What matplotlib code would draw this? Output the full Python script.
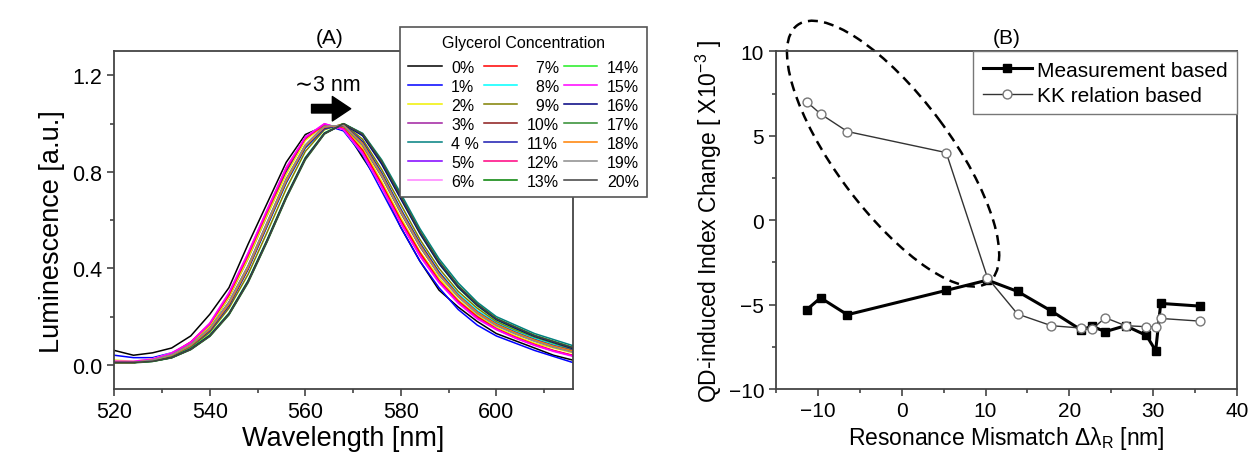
import matplotlib
matplotlib.use('Agg')
import matplotlib.pyplot as plt
from matplotlib.patches import Circle
from matplotlib.transforms import Affine2D
from matplotlib.ticker import MultipleLocator, FormatStrFormatter

plt.rcParams['font.family'] = ['Liberation Sans', 'DejaVu Sans']

# ---- panel (A): normalised luminescence spectra ----
wavelength = [520, 524, 528, 532, 536, 540, 544, 548, 552, 556, 560, 564, 568,
              572, 576, 580, 584, 588, 592, 596, 600, 604, 608, 612, 616]

concentration = ['0%', '1%', '2%', '3%', '4 %', '5%', '6%',
                 '7%', '8%', '9%', '10%', '11%', '12%', '13%',
                 '14%', '15%', '16%', '17%', '18%', '19%', '20%']

line_colors = ['#000000', '#0000ff', '#f0f000', '#a020a0', '#008080', '#8000ff', '#ff80ff',
               '#ff0000', '#00ffff', '#808000', '#8b1a1a', '#1a1ab0', '#ff0080', '#008000',
               '#22ee22', '#ff00ff', '#000080', '#2e8b2e', '#ff8000', '#8c8c8c', '#404040']

# one row per glycerol concentration, sampled at the wavelengths above
luminescence = [
    [0.06, 0.04, 0.05, 0.07, 0.12, 0.21, 0.32, 0.50, 0.67, 0.84, 0.955, 0.99, 0.985, 0.86, 0.74, 0.57, 0.43, 0.31, 0.24, 0.18, 0.13, 0.10, 0.07, 0.04, 0.02],
    [0.04, 0.03, 0.03, 0.05, 0.09, 0.16, 0.28, 0.44, 0.62, 0.80, 0.935, 0.995, 0.97, 0.87, 0.72, 0.57, 0.43, 0.32, 0.23, 0.165, 0.12, 0.09, 0.06, 0.035, 0.01],
    [0.02, 0.015, 0.025, 0.045, 0.09, 0.16, 0.28, 0.44, 0.62, 0.79, 0.93, 0.995, 0.985, 0.90, 0.76, 0.61, 0.47, 0.36, 0.27, 0.205, 0.155, 0.12, 0.09, 0.07, 0.05],
    [0.01, 0.01, 0.02, 0.04, 0.08, 0.145, 0.25, 0.40, 0.58, 0.76, 0.905, 0.985, 0.995, 0.92, 0.79, 0.64, 0.50, 0.38, 0.29, 0.22, 0.17, 0.135, 0.105, 0.08, 0.06],
    [0.01, 0.01, 0.015, 0.03, 0.065, 0.12, 0.21, 0.345, 0.515, 0.695, 0.855, 0.96, 1.0, 0.96, 0.85, 0.71, 0.565, 0.44, 0.34, 0.26, 0.20, 0.165, 0.13, 0.105, 0.08],
    [0.01, 0.01, 0.02, 0.04, 0.08, 0.15, 0.255, 0.405, 0.585, 0.765, 0.91, 0.99, 0.99, 0.915, 0.785, 0.635, 0.495, 0.375, 0.285, 0.215, 0.165, 0.13, 0.10, 0.075, 0.055],
    [0.015, 0.015, 0.025, 0.05, 0.095, 0.175, 0.30, 0.465, 0.645, 0.82, 0.945, 1.0, 0.975, 0.875, 0.735, 0.585, 0.45, 0.34, 0.255, 0.19, 0.145, 0.11, 0.08, 0.055, 0.035],
    [0.01, 0.01, 0.02, 0.045, 0.095, 0.17, 0.29, 0.455, 0.635, 0.81, 0.94, 0.995, 0.98, 0.89, 0.75, 0.60, 0.465, 0.35, 0.265, 0.20, 0.15, 0.115, 0.085, 0.06, 0.04],
    [0.01, 0.01, 0.02, 0.04, 0.08, 0.145, 0.25, 0.40, 0.575, 0.755, 0.90, 0.98, 0.995, 0.925, 0.795, 0.645, 0.505, 0.385, 0.295, 0.225, 0.175, 0.14, 0.11, 0.085, 0.065],
    [0.01, 0.01, 0.018, 0.035, 0.072, 0.135, 0.235, 0.375, 0.55, 0.73, 0.885, 0.975, 1.0, 0.935, 0.81, 0.665, 0.52, 0.40, 0.305, 0.235, 0.18, 0.145, 0.115, 0.09, 0.065],
    [0.012, 0.01, 0.02, 0.042, 0.082, 0.15, 0.26, 0.41, 0.59, 0.77, 0.91, 0.99, 0.99, 0.91, 0.78, 0.63, 0.49, 0.375, 0.285, 0.215, 0.165, 0.13, 0.10, 0.075, 0.055],
    [0.01, 0.01, 0.02, 0.04, 0.078, 0.142, 0.245, 0.395, 0.575, 0.755, 0.90, 0.98, 0.995, 0.925, 0.795, 0.645, 0.505, 0.385, 0.29, 0.22, 0.17, 0.135, 0.105, 0.08, 0.06],
    [0.012, 0.012, 0.022, 0.048, 0.092, 0.17, 0.295, 0.46, 0.64, 0.815, 0.94, 0.998, 0.978, 0.88, 0.74, 0.59, 0.455, 0.345, 0.26, 0.195, 0.148, 0.112, 0.082, 0.058, 0.038],
    [0.01, 0.01, 0.015, 0.03, 0.065, 0.12, 0.21, 0.345, 0.515, 0.695, 0.855, 0.96, 1.0, 0.955, 0.84, 0.695, 0.55, 0.425, 0.325, 0.25, 0.19, 0.155, 0.12, 0.095, 0.07],
    [0.01, 0.01, 0.016, 0.032, 0.068, 0.125, 0.215, 0.35, 0.52, 0.70, 0.86, 0.962, 1.0, 0.952, 0.835, 0.69, 0.545, 0.42, 0.32, 0.245, 0.187, 0.15, 0.117, 0.092, 0.068],
    [0.015, 0.014, 0.024, 0.048, 0.094, 0.172, 0.298, 0.462, 0.642, 0.818, 0.944, 1.0, 0.976, 0.878, 0.738, 0.588, 0.452, 0.342, 0.257, 0.192, 0.147, 0.112, 0.082, 0.057, 0.037],
    [0.01, 0.01, 0.016, 0.031, 0.066, 0.122, 0.212, 0.347, 0.517, 0.697, 0.857, 0.96, 0.998, 0.95, 0.832, 0.688, 0.545, 0.42, 0.322, 0.247, 0.188, 0.152, 0.118, 0.093, 0.068],
    [0.008, 0.008, 0.014, 0.029, 0.063, 0.118, 0.207, 0.34, 0.51, 0.69, 0.85, 0.957, 1.0, 0.958, 0.845, 0.70, 0.555, 0.43, 0.33, 0.253, 0.193, 0.158, 0.123, 0.098, 0.073],
    [0.01, 0.01, 0.02, 0.04, 0.08, 0.147, 0.252, 0.402, 0.582, 0.762, 0.907, 0.986, 0.994, 0.918, 0.788, 0.638, 0.498, 0.378, 0.288, 0.218, 0.168, 0.133, 0.103, 0.078, 0.058],
    [0.01, 0.01, 0.02, 0.042, 0.084, 0.152, 0.26, 0.41, 0.59, 0.77, 0.912, 0.99, 0.992, 0.912, 0.782, 0.632, 0.492, 0.372, 0.282, 0.212, 0.162, 0.128, 0.098, 0.073, 0.053],
    [0.01, 0.01, 0.015, 0.03, 0.064, 0.12, 0.21, 0.343, 0.513, 0.693, 0.853, 0.958, 1.0, 0.956, 0.842, 0.697, 0.552, 0.427, 0.327, 0.251, 0.191, 0.156, 0.121, 0.096, 0.071],
]

# ---- panel (B): QD-induced index change ----
mismatch = [-11.35, -9.68, -6.49, 5.31, 10.23, 13.82, 17.85, 21.4, 22.7, 24.3, 26.7, 29.2, 30.3, 30.9, 35.6]
measured = [-5.31, -4.60, -5.60, -4.16, -3.55, -4.22, -5.38, -6.50, -6.29, -6.60, -6.25, -6.83, -7.73, -4.93, -5.09]
kk_based = [7.02, 6.29, 5.25, 4.00, -3.41, -5.56, -6.25, -6.39, -6.45, -5.78, -6.25, -6.31, -6.31, -5.82, -5.98]

spine_color = '#444444'

fig = plt.figure(figsize=(12.51, 4.56), dpi=100)
axA = fig.add_axes([0.0914, 0.1447, 0.3664, 0.7406])
axB = fig.add_axes([0.6203, 0.1447, 0.3685, 0.7406])

for ax in (axA, axB):
    for sp in ax.spines.values():
        sp.set_color(spine_color)
        sp.set_linewidth(1.3)
    ax.tick_params(which='both', direction='out', color=spine_color, width=1.2)
    ax.tick_params(which='major', length=5)
    ax.tick_params(which='minor', length=3)

# panel A
for i in range(len(concentration)):
    lab = concentration[i]
    if i >= 7 and len(lab) == 2:
        lab = '\u2007' + lab  # keep the middle column right aligned
    axA.plot(wavelength, luminescence[i], color=line_colors[i], lw=1.1, label=lab)

axA.set_xlim(520, 616)
axA.set_ylim(-0.1, 1.3)
axA.xaxis.set_major_locator(MultipleLocator(20))
axA.xaxis.set_minor_locator(MultipleLocator(10))
axA.yaxis.set_major_locator(MultipleLocator(0.4))
axA.yaxis.set_minor_locator(MultipleLocator(0.2))
axA.yaxis.set_major_formatter(FormatStrFormatter('%.1f'))
axA.tick_params(labelsize=15.5)
axA.set_xlabel('Wavelength [nm]', fontsize=19.5, labelpad=2)
axA.set_ylabel('Luminescence [a.u.]', fontsize=19.5, labelpad=5, y=0.47)
axA.set_title('(A)', fontsize=15, pad=6, x=0.47)

axA.annotate('', xy=(569.5, 1.062), xytext=(561.3, 1.062),
             arrowprops=dict(arrowstyle='simple,head_length=0.6,head_width=0.8,tail_width=0.28',
                             color='k', mutation_scale=22, shrinkA=0, shrinkB=0))
axA.text(564.7, 1.163, '\u223c3 nm', fontsize=15.5, ha='center', va='center')

legA = axA.legend(ncol=3, title='Glycerol Concentration', fontsize=11.5, title_fontsize=11.5,
                  loc='upper left', bbox_to_anchor=(400 / 1251, 1 - 28 / 456),
                  bbox_transform=fig.transFigure, fancybox=False, framealpha=1,
                  edgecolor='#555555', handlelength=2.1, handletextpad=0.6,
                  columnspacing=0.3, labelspacing=0.25, borderpad=0.5, borderaxespad=0)
legA.get_frame().set_linewidth(1.2)
legA._legend_box.sep = 7  # a bit more room under the title
legA.set_clip_on(False)

# panel B
axB.plot(mismatch, measured, color='k', lw=2.2, marker='s', ms=5.6,
         mfc='k', mec='k', label='Measurement based', zorder=3)
axB.plot(mismatch, kk_based, color='#333333', lw=1.0, marker='o', ms=6.4,
         mfc='white', mec='#777777', mew=1.0, label='KK relation based', zorder=4)

axB.set_xlim(-15, 40)
axB.set_ylim(-10, 10)
axB.xaxis.set_major_locator(MultipleLocator(10))
axB.xaxis.set_minor_locator(MultipleLocator(5))
axB.yaxis.set_major_locator(MultipleLocator(5))
axB.yaxis.set_minor_locator(MultipleLocator(2.5))
axB.tick_params(labelsize=15)
axB.set_xlabel('Resonance Mismatch \u0394\u03bb$_\\mathregular{R}$ [nm]', fontsize=16.5, labelpad=3)
axB.set_ylabel('QD-induced Index Change [ X10$^\\mathregular{-3}$ ]', fontsize=16.5, labelpad=3)
axB.set_title('(B)', fontsize=15, pad=6)

legB = axB.legend(loc='upper right', bbox_to_anchor=(1, 1), borderaxespad=0,
                  fontsize=15, fancybox=False, framealpha=1, edgecolor='#777777',
                  handlelength=2.35, handletextpad=0.25, labelspacing=0.3, borderpad=0.45)
legB.get_frame().set_linewidth(1.0)

# dashed ellipse marking the region of interest (unit circle mapped to data space)
ell = Circle((0, 0), 1, fill=False, ls=(0, (4, 2.5)), lw=1.8, ec='k', clip_on=False)
ell.set_transform(Affine2D.from_values(11.41, -7.61, -5.49, -2.01, -1.03, 3.94) + axB.transData)
axB.add_patch(ell)

fig.savefig('out.png', dpi=100)
